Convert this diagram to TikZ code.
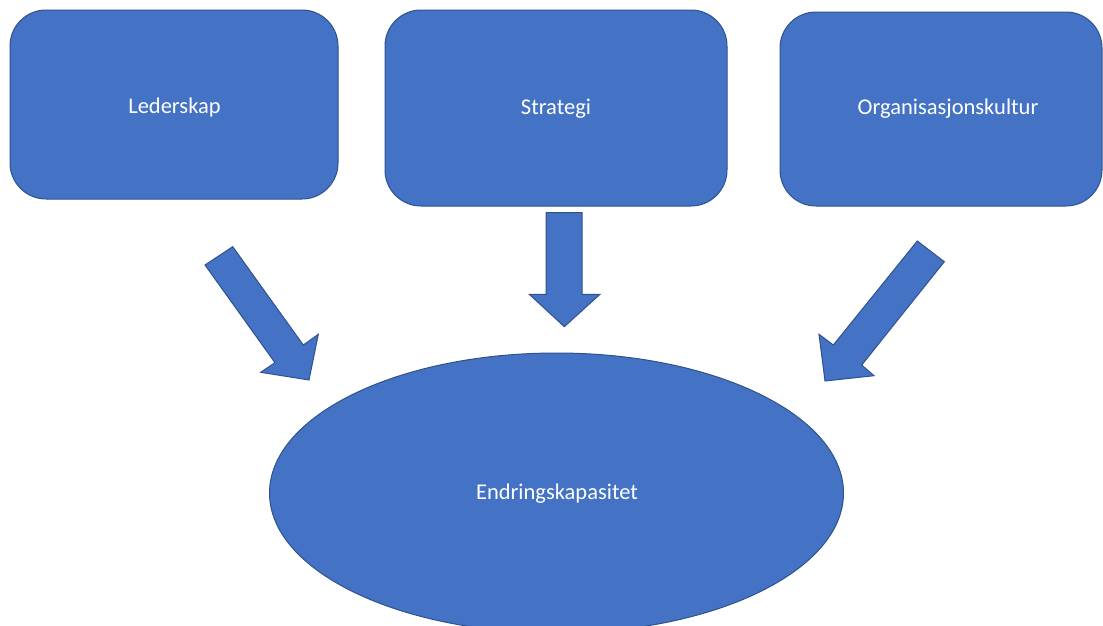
\documentclass[tikz,border=0pt]{standalone}
\usepackage{fontspec}
\setmainfont{Carlito}
\usetikzlibrary{shapes.geometric}
\definecolor{fillblue}{HTML}{4472C4}
\definecolor{edgeblue}{HTML}{2F528F}
\tikzset{
  shapestyle/.style={fill=fillblue, draw=edgeblue, line width=1pt},
  lbl/.style={text=white, font=\fontsize{22.5}{26}\selectfont},
}
\begin{document}
\begin{tikzpicture}[x=1pt,y=-1pt]
\useasboundingbox (0,0) rectangle (1103,625);
\clip (0,0) rectangle (1103,625);
% boxes
\draw[shapestyle, rounded corners=36pt] (10,10) rectangle (338,199);
\node[lbl] (lead) at (174.5,107) {Lederskap};
\draw[shapestyle, rounded corners=36pt] (385,10) rectangle (727,206);
\node[lbl] (strat) at (556,109) {Strategi};
\draw[shapestyle, rounded corners=36pt] (780,12) rectangle (1102,206);
\node[lbl] (org) at (948,109) {Organisasjonskultur};
% ellipse
\draw[shapestyle] (556.5,493) ellipse [x radius=287, y radius=140];
\node[lbl] (endr) at (557,494) {Endringskapasitet};
% block arrows
\draw[shapestyle, line join=miter] (232.7,246.7) -- (303.3,345) -- (318.3,334.3) -- (309,380) -- (260.7,372.3) -- (275,362.7) -- (205,265) -- cycle;
\draw[shapestyle, line join=miter] (546,212.7) -- (582,212.7) -- (582,294.3) -- (600,294.3) -- (564.3,326.7) -- (529.3,294.3) -- (546,294.3) -- cycle;
\draw[shapestyle, line join=miter] (917.3,241) -- (944.3,261.7) -- (861.7,365) -- (874,375.7) -- (825,381) -- (819,334.3) -- (833.3,345) -- cycle;
\end{tikzpicture}
\end{document}
